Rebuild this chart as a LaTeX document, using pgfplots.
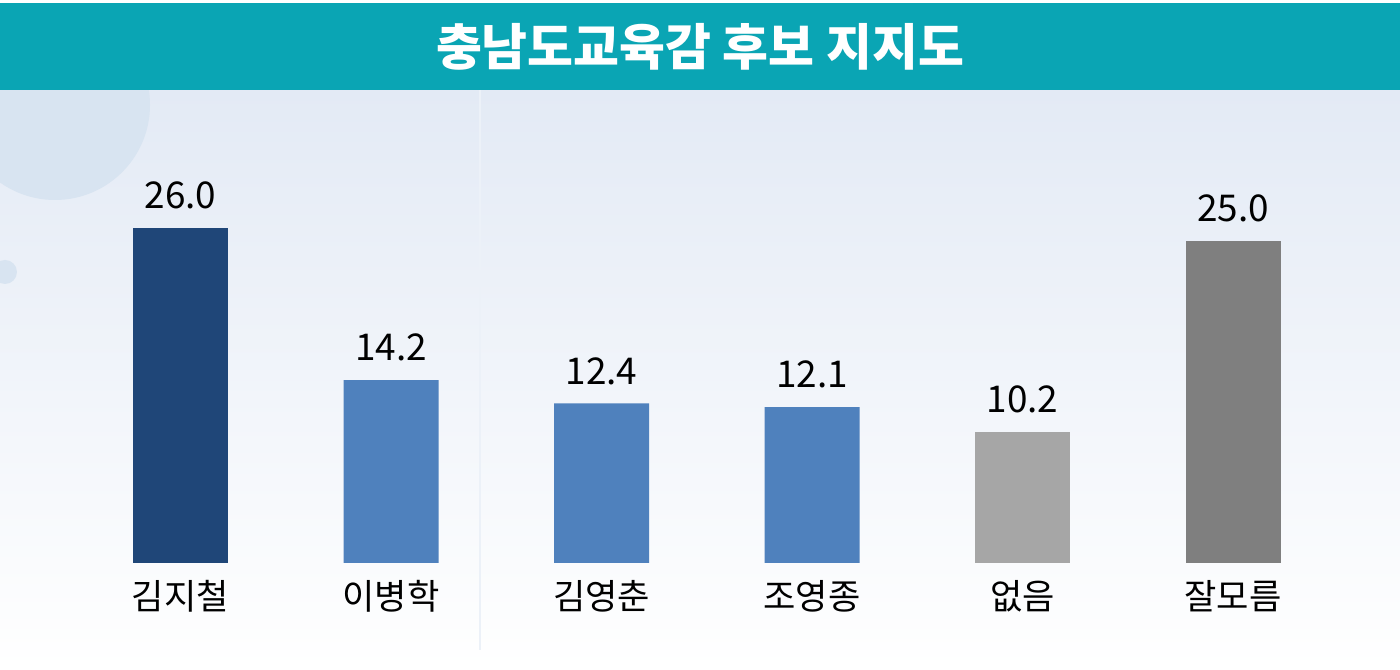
\documentclass[border=0pt]{standalone}
\usepackage{fontspec}
\setmainfont{Noto Sans CJK KR}
\usepackage{pgfplots}
\pgfplotsset{compat=1.18}

\definecolor{banner}{HTML}{0AA5B4}
\definecolor{navy}{HTML}{1F4678}
\definecolor{midblue}{HTML}{4F81BD}
\definecolor{lightgr}{HTML}{A6A6A6}
\definecolor{darkgr}{HTML}{7F7F7F}
\definecolor{bgtop}{HTML}{E3EAF5}
\definecolor{deco}{HTML}{D8E4F1}

\begin{document}
\begin{tikzpicture}
\useasboundingbox (0,0) rectangle (14,6.7);
% background
\begin{scope}
\clip (0,0) rectangle (14,6.7);
\fill[top color=bgtop, bottom color=white] (0,0) rectangle (14,5.8);
\fill[deco] (0.55,5.65) circle (0.95);
\fill[deco] (0.05,3.98) circle (0.12);
\draw[deco!50, line width=0.5pt] (4.8,0.2) -- (4.8,5.8);
% banner
\fill[white] (0,5.8) rectangle (14,6.7);
\fill[banner] (0,5.8) rectangle (14,6.67);
\end{scope}
\node[text=white, font=\fontsize{14.2}{17}\selectfont\bfseries] at (7,6.23) {충남도교육감 후보 지지도};

\begin{axis}[
  at={(0.7525cm,1.07cm)}, anchor=south west,
  scale only axis,
  width=12.63cm, height=3.864cm,
  ybar, bar width=0.95cm, bar shift=0pt,
  xmin=-0.5, xmax=5.5,
  ymin=0, ymax=30,
  axis line style={draw=none},
  ytick=\empty,
  xtick={0,1,2,3,4,5},
  xticklabels={김지철, 이병학, 김영춘, 조영종, 없음, 잘모름},
  major tick length=0pt,
  xticklabel style={anchor=north, inner sep=0pt, yshift=-0.17cm, font=\fontsize{10}{12}\selectfont},
  point meta=explicit symbolic,
  nodes near coords,
  every node near coord/.append style={anchor=south, inner sep=0pt, yshift=0.18cm, font=\fontsize{10.5}{12}\selectfont, text=black},
  clip=false
]
\addplot[fill=navy, draw=none] coordinates {(0,26.0) [26.0]};
\addplot[fill=midblue, draw=none] coordinates {(1,14.2) [14.2] (2,12.4) [12.4] (3,12.1) [12.1]};
\addplot[fill=lightgr, draw=none] coordinates {(4,10.2) [10.2]};
\addplot[fill=darkgr, draw=none] coordinates {(5,25.0) [25.0]};
\end{axis}
\end{tikzpicture}
\end{document}
